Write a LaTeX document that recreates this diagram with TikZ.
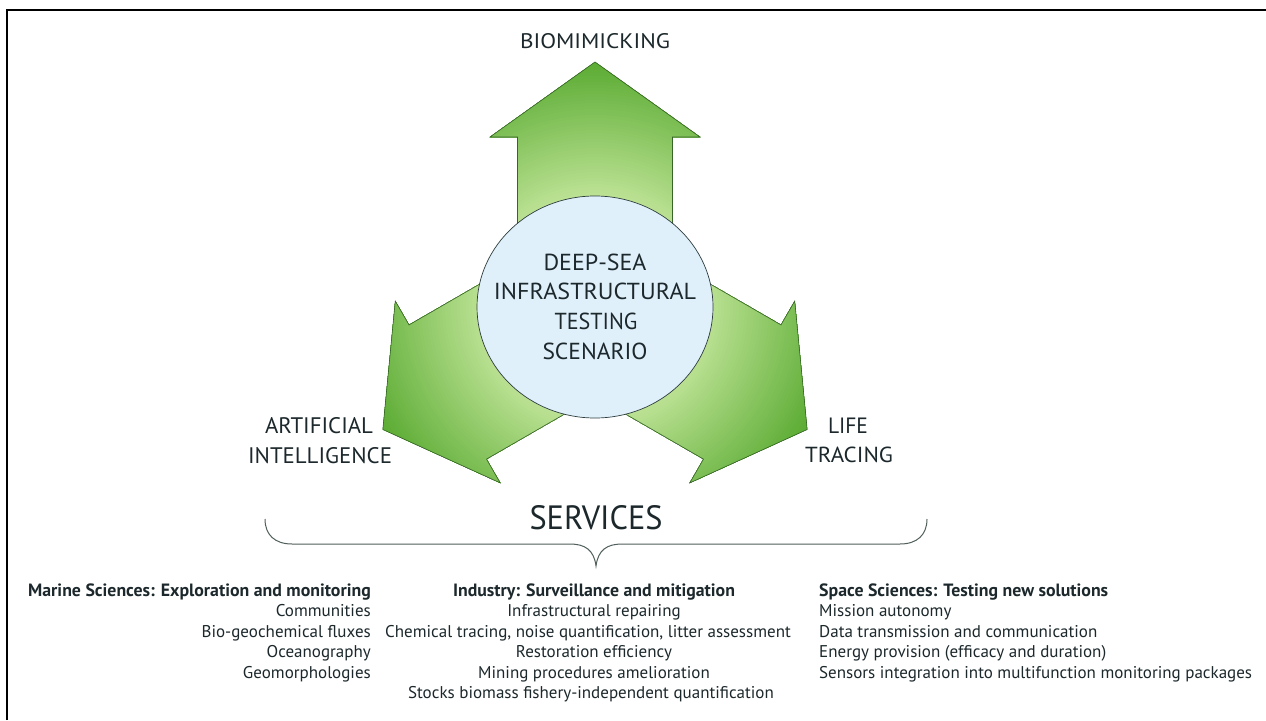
\documentclass[tikz,border=0pt]{standalone}
\usepackage{fontspec}
\setmainfont{PT Sans}
\usepackage{graphicx}
\usetikzlibrary{shapes.geometric}
\definecolor{glight}{RGB}{190,227,150}
\definecolor{gdark}{RGB}{92,172,52}
\definecolor{gline}{RGB}{55,100,40}
\definecolor{cfill}{RGB}{224,240,251}
\definecolor{cline}{RGB}{45,60,60}
\definecolor{txt}{RGB}{28,40,44}
\definecolor{bracec}{RGB}{80,95,92}
\newcommand{\fitcap}[3]{\resizebox{#1pt}{#2pt}{#3}}
\begin{document}
\begin{tikzpicture}[x=1pt,y=-1pt,
  lbl/.style={inner sep=0pt, text=txt, anchor=base},
  body/.style={inner sep=0pt, text=txt, font=\fontsize{17}{20}\selectfont},
  head/.style={inner sep=0pt, text=txt, font=\fontsize{17.8}{20}\selectfont\bfseries},
  arrowline/.style={draw=gline, line width=0.6pt, line join=miter},
  hubstyle/.style={ellipse, minimum width=236pt, minimum height=222pt, inner sep=0pt, fill=cfill, draw=cline, line width=0.7pt},
  bracestyle/.style={draw=bracec, line width=1pt}]
\useasboundingbox (0,0) rectangle (1266,720);
\fill[white] (0,0) rectangle (1266,720);
\draw[line width=2pt] (7,720) -- (7,10) -- (1266,10);

% arrow outlines (same shape, rotated about the hub centre)
\foreach \a/\n in {0/A,120/B,240/C}{
  \begin{scope}[shift={(595,307)}, rotate=\a]
    \coordinate (\n1) at (-77.5,0);
    \coordinate (\n2) at (-77.5,-170);
    \coordinate (\n3) at (-105,-170);
    \coordinate (\n4) at (0,-245);
    \coordinate (\n5) at (105,-170);
    \coordinate (\n6) at (77.5,-170);
    \coordinate (\n7) at (77.5,0);
  \end{scope}}
\begin{scope}
  \clip (A1)--(A2)--(A3)--(A4)--(A5)--(A6)--(A7)--cycle
        (B1)--(B2)--(B3)--(B4)--(B5)--(B6)--(B7)--cycle
        (C1)--(C2)--(C3)--(C4)--(C5)--(C6)--(C7)--cycle;
  \foreach \r in {252,249,...,100}{
    \pgfmathsetmacro{\p}{max(0,min(100,(\r-110)/135*100))}
    \fill[gdark!\p!glight] (595,307) circle (\r);
  }
\end{scope}
\foreach \n in {A,B,C}
  \draw[arrowline] (\n1)--(\n2)--(\n3)--(\n4)--(\n5)--(\n6)--(\n7)--cycle;

\node[hubstyle] (hub) at (595,307) {};
\node[lbl] (h1) at (595,270) {\fitcap{103}{16.5}{DEEP-SEA}};
\node[lbl] (h2) at (595,299.5) {\fitcap{202}{16.5}{INFRASTRUCTURAL}};
\node[lbl] (h3) at (596,329) {\fitcap{83}{16.5}{TESTING}};
\node[lbl] (h4) at (595,359) {\fitcap{105}{16.5}{SCENARIO}};

\node[lbl] (bio) at (595,48.3) {\fitcap{150}{15}{BIOMIMICKING}};
\node[lbl] (ai1) at (319,433) {\fitcap{108}{16}{ARTIFICIAL}};
\node[lbl] (ai2) at (320,463) {\fitcap{144}{16}{INTELLIGENCE}};
\node[lbl] (lt1) at (848,433) {\fitcap{40}{15.5}{LIFE}};
\node[lbl] (lt2) at (849,462) {\fitcap{88}{15.5}{TRACING}};

\node[lbl] (serv) at (596,529) {\fitcap{133}{24}{SERVICES}};
\draw[bracestyle] (265,519) .. controls (265,535) and (275,544) .. (292,544)
  -- (570,544) .. controls (585,544) and (594,550) .. (596,566)
  .. controls (598,550) and (607,544) .. (622,544)
  -- (900,544) .. controls (917,544) and (927,535) .. (927,519);

% column 1
\node[head, anchor=base east] (m0) at (371,596) {Marine Sciences: Exploration and monitoring};
\node[body, anchor=base east] (m1) at (371,616.7) {Communities};
\node[body, anchor=base east] (m2) at (371,637.3) {Bio-geochemical fluxes};
\node[body, anchor=base east] (m3) at (371,657.8) {Oceanography};
\node[body, anchor=base east] (m4) at (371,678.3) {Geomorphologies};
% column 2
\node[head, anchor=base] (i0) at (594,596) {Industry: Surveillance and mitigation};
\node[body, anchor=base] (i1) at (594,616.7) {Infrastructural repairing};
\node[body, anchor=base] (i2) at (588,637.3) {Chemical tracing, noise quantification, litter assessment};
\node[body, anchor=base] (i3) at (594,657.8) {Restoration efficiency};
\node[body, anchor=base] (i4) at (594,678.3) {Mining procedures amelioration};
\node[body, anchor=base] (i5) at (591,698.8) {Stocks biomass fishery-independent quantification};
% column 3
\node[head, anchor=base west] (s0) at (819,596) {Space Sciences: Testing new solutions};
\node[body, anchor=base west] (s1) at (819,616.7) {Mission autonomy};
\node[body, anchor=base west] (s2) at (819,637.3) {Data transmission and communication};
\node[body, anchor=base west] (s3) at (819,657.8) {Energy provision (efficacy and duration)};
\node[body, anchor=base west] (s4) at (819,678.3) {Sensors integration into multifunction monitoring packages};
\end{tikzpicture}
\end{document}
